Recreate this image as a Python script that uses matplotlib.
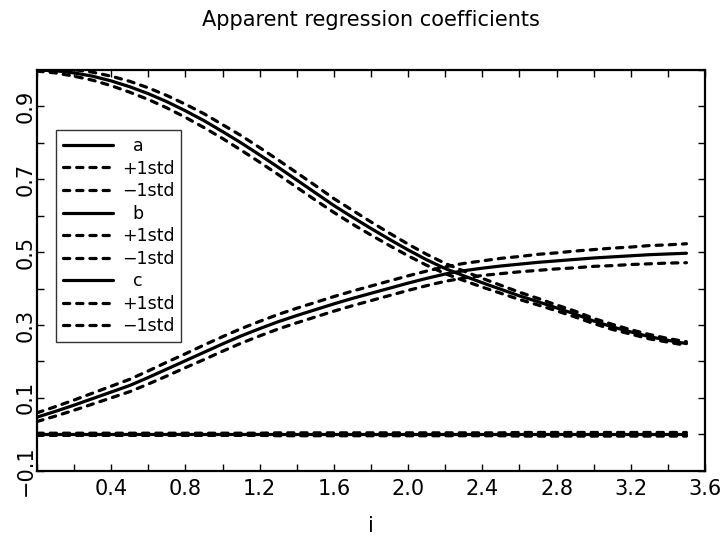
import numpy as np
import matplotlib
matplotlib.use('Agg')
import matplotlib.pyplot as plt

i_vals = [0.0, 0.1, 0.2, 0.3, 0.4, 0.5, 0.6, 0.7, 0.8, 0.9,
          1.0, 1.1, 1.2, 1.3, 1.4, 1.5, 1.6, 1.7, 1.8, 1.9,
          2.0, 2.1, 2.2, 2.3, 2.4, 2.5, 2.6, 2.7, 2.8, 2.9,
          3.0, 3.1, 3.2, 3.3, 3.4, 3.5]

a_vals = [1.000, 0.998, 0.992, 0.983, 0.970, 0.954, 0.935, 0.913, 0.888, 0.861,
          0.831, 0.800, 0.767, 0.733, 0.698, 0.663, 0.628, 0.596, 0.565, 0.535,
          0.506, 0.479, 0.455, 0.435, 0.416, 0.398, 0.380, 0.364, 0.347, 0.330,
          0.311, 0.295, 0.281, 0.268, 0.258, 0.249]
a_std = [0.003, 0.006, 0.009, 0.011, 0.013, 0.015, 0.016, 0.017, 0.018, 0.019,
         0.019, 0.020, 0.020, 0.020, 0.020, 0.020, 0.019, 0.019, 0.018, 0.017,
         0.016, 0.015, 0.014, 0.013, 0.012, 0.011, 0.010, 0.009, 0.008, 0.008,
         0.007, 0.007, 0.006, 0.006, 0.005, 0.005]

b_vals = [0.047, 0.063, 0.080, 0.098, 0.116, 0.134, 0.156, 0.179, 0.202, 0.225,
          0.248, 0.270, 0.290, 0.309, 0.326, 0.342, 0.358, 0.373, 0.387, 0.401,
          0.415, 0.428, 0.440, 0.449, 0.456, 0.462, 0.467, 0.472, 0.476, 0.480,
          0.484, 0.487, 0.490, 0.493, 0.495, 0.497]
b_std = [0.012, 0.013, 0.014, 0.015, 0.016, 0.017, 0.018, 0.019, 0.019, 0.020,
         0.020, 0.020, 0.020, 0.020, 0.020, 0.020, 0.020, 0.020, 0.020, 0.020,
         0.020, 0.020, 0.020, 0.020, 0.020, 0.021, 0.021, 0.022, 0.022, 0.023,
         0.023, 0.024, 0.024, 0.025, 0.025, 0.026]

c_vals = [0.0] * 36
c_std = [0.003, 0.003, 0.003, 0.003, 0.003, 0.003, 0.003, 0.003, 0.003, 0.003,
         0.003, 0.003, 0.003, 0.004, 0.004, 0.004, 0.004, 0.004, 0.004, 0.004,
         0.004, 0.004, 0.004, 0.004, 0.004, 0.004, 0.005, 0.005, 0.005, 0.005,
         0.005, 0.005, 0.005, 0.005, 0.005, 0.005]

series = [('  a', a_vals, a_std), ('  b', b_vals, b_std), ('  c', c_vals, c_std)]

xtick_pos = [0.0, 0.2, 0.4, 0.6, 0.8, 1.0, 1.2, 1.4, 1.6, 1.8,
             2.0, 2.2, 2.4, 2.6, 2.8, 3.0, 3.2, 3.4, 3.6]
xtick_lab = ['', '', '0.4', '', '0.8', '', '1.2', '', '1.6', '',
             '2.0', '', '2.4', '', '2.8', '', '3.2', '', '3.6']
ytick_pos = [-0.1, 0.0, 0.1, 0.2, 0.3, 0.4, 0.5, 0.6, 0.7, 0.8, 0.9, 1.0]
ytick_lab = ['\u22120.1', '', '0.1', '', '0.3', '', '0.5', '', '0.7', '', '0.9', '']

plt.rcParams['font.family'] = ['DejaVu Sans']
plt.rcParams['lines.scale_dashes'] = False

fig = plt.figure(figsize=(7.25, 5.36), dpi=100)
ax = fig.add_axes([0.051, 0.1218, 0.9214, 0.7476])

x = np.array(i_vals)
lw = 2.3
dash = (4.5, 5.0)
for name, v, s in series:
    v = np.array(v)
    s = np.array(s)
    ax.plot(x, v, color='black', lw=lw, solid_capstyle='round', label=name)
    ax.plot(x, v + s, color='black', lw=lw, dashes=dash,
            dash_capstyle='round', label='+1std')
    ax.plot(x, v - s, color='black', lw=lw, dashes=dash,
            dash_capstyle='round', label='\u22121std')

ax.set_xlim(0, 3.6)
ax.set_ylim(-0.1, 1.0)
ax.set_xticks(xtick_pos)
ax.set_xticklabels(xtick_lab, fontsize=15)
ax.set_yticks(ytick_pos)
ax.set_yticklabels(ytick_lab, fontsize=15, rotation=90, va='center')
ax.tick_params(direction='in', top=True, right=True, length=5, width=1)
ax.tick_params(axis='x', pad=6)
ax.tick_params(axis='y', pad=1)
for sp in ax.spines.values():
    sp.set_linewidth(1.6)

ax.set_title('Apparent regression coefficients', fontsize=15, pad=32)
ax.set_xlabel('i', fontsize=15, labelpad=12)

leg = ax.legend(loc='upper left', bbox_to_anchor=(0.0284, 0.850),
                borderaxespad=0, fontsize=12.5, frameon=True, fancybox=False,
                handlelength=2.9, handletextpad=0.5, labelspacing=0.26,
                borderpad=0.4)
leg.get_frame().set_edgecolor('black')
leg.get_frame().set_linewidth(1.0)

fig.savefig('out.png', dpi=100)
